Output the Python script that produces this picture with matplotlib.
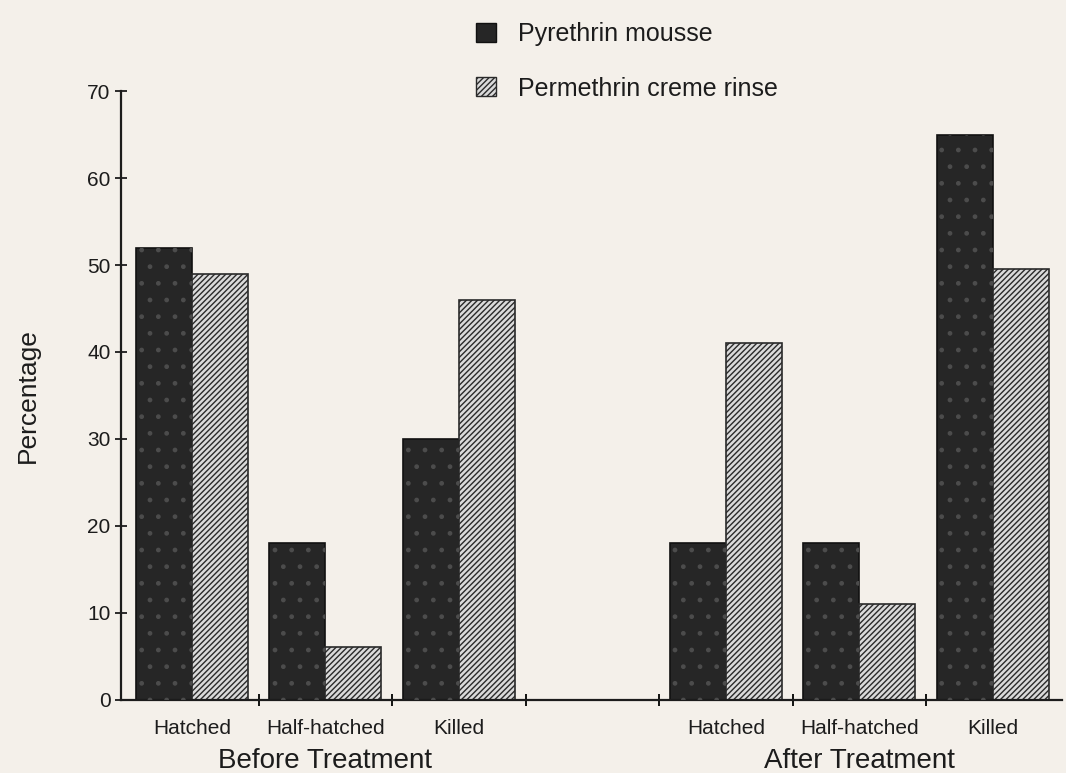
import matplotlib
matplotlib.use("Agg")
import matplotlib.pyplot as plt
from matplotlib.patches import Patch
from matplotlib.ticker import FixedLocator, NullFormatter

categories = ["Hatched", "Half-hatched", "Killed", "Hatched", "Half-hatched", "Killed"]
group_titles = ["Before Treatment", "After Treatment"]
pyrethrin = [52, 18, 30, 18, 18, 65]
permethrin = [49, 6, 46, 41, 11, 49.5]
series_names = ["Pyrethrin mousse", "Permethrin creme rinse"]
yticks = [0, 10, 20, 30, 40, 50, 60, 70]

plt.rcParams['font.family'] = ['Liberation Sans', 'DejaVu Sans']
plt.rcParams['hatch.linewidth'] = 1.0

bg = '#f4f0ea'
ink = '#1c1c1c'
fig = plt.figure(figsize=(10.66, 7.73), dpi=100, facecolor=bg)
ax = fig.add_axes([0.1135, 0.095, 0.883, 0.787], facecolor=bg)

slots = [0, 1, 2, 4, 5, 6]
w = 0.42
dark = '#262626'
xp = [s - w / 2 for s in slots]
xq = [s + w / 2 for s in slots]
ax.bar(xp, pyrethrin, width=w, color=dark, edgecolor='#111111',
       linewidth=1.2, label=series_names[0], zorder=2)
ax.bar(xp, pyrethrin, width=w, color='none', edgecolor='#4c4c4c',
       hatch='.', linewidth=0, zorder=3)
ax.bar(xq, permethrin, width=w, color='#dadada', edgecolor='#2a2a2a',
       hatch='//////', linewidth=1.2, label=series_names[1], zorder=2)

ax.set_xlim(-0.53, 6.52)
ax.set_ylim(0, 70)
ax.set_yticks(yticks)
ax.tick_params(axis='y', direction='inout', length=9, width=1.3,
               labelsize=15, pad=3, colors=ink)
ax.xaxis.set_major_locator(FixedLocator([0.5, 1.5, 2.5, 3.5, 4.5, 5.5]))
ax.xaxis.set_major_formatter(NullFormatter())
ax.tick_params(axis='x', which='major', direction='inout', length=9, width=1.3)
ax.xaxis.set_minor_locator(FixedLocator(slots))
ax.set_xticklabels(categories, minor=True, fontsize=15)
ax.tick_params(axis='x', which='minor', length=0, pad=14, colors=ink)

for side in ['top', 'right']:
    ax.spines[side].set_visible(False)
for side in ['left', 'bottom']:
    ax.spines[side].set_linewidth(1.6)
    ax.spines[side].set_color(ink)

ax.set_ylabel("Percentage", fontsize=19, labelpad=34, color=ink)

for center, title in zip([1, 5], group_titles):
    ax.text(center, -0.08, title, transform=ax.get_xaxis_transform(),
            ha='center', va='top', fontsize=20, color=ink)

handles = [Patch(facecolor=dark, edgecolor='#111111'),
           Patch(facecolor='#dadada', edgecolor='#2a2a2a', hatch='//////')]
fig.legend(handles, series_names, loc='upper left',
           bbox_to_anchor=(0.425, 1.0), frameon=False, fontsize=18,
           handlelength=0.8, handleheight=0.8, handletextpad=0.9,
           labelspacing=1.2, labelcolor=ink)

fig.savefig("out.png", dpi=100, facecolor=bg)
